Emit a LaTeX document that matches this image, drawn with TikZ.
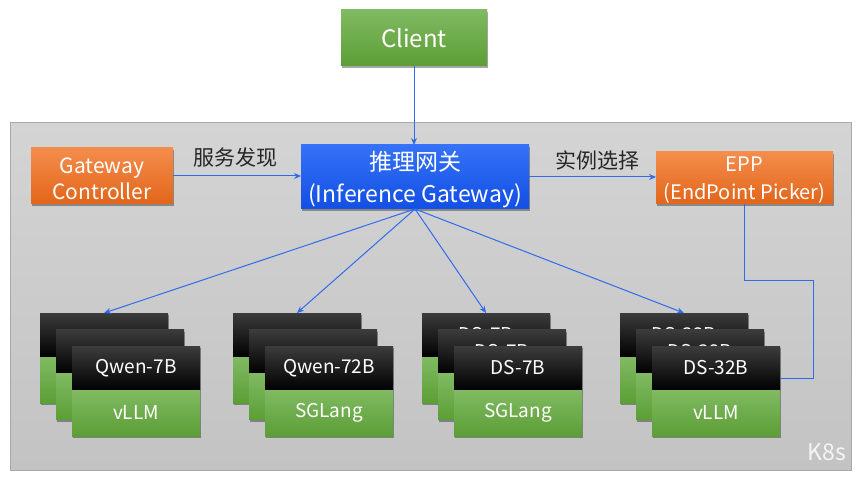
\documentclass[tikz,border=0pt]{standalone}
\usepackage{fontspec}
\setmainfont{Noto Sans CJK SC}
\usetikzlibrary{arrows.meta,shadows,calc}
\definecolor{gtop}{HTML}{80BA62}
\definecolor{gbot}{HTML}{5C9E36}
\definecolor{otop}{HTML}{F48D4C}
\definecolor{obot}{HTML}{E2651A}
\definecolor{btop}{HTML}{3572F7}
\definecolor{bbot}{HTML}{124FE4}
\definecolor{ktop}{HTML}{3C3C3C}
\definecolor{kbot}{HTML}{000000}
\definecolor{connc}{HTML}{2F6BEE}
\definecolor{bgtop}{HTML}{D4D4D4}
\definecolor{bgbot}{HTML}{C3C3C3}
\definecolor{bgline}{HTML}{A8A8A8}
\tikzset{
  shbox/.style={inner sep=0pt, outer sep=0pt, text=white, align=center,
     drop shadow={shadow xshift=1pt, shadow yshift=-2pt, opacity=0.35, fill=black}},
  greenbox/.style={shbox, top color=gtop, bottom color=gbot},
  orangebox/.style={shbox, top color=otop, bottom color=obot},
  bluebox/.style={shbox, top color=btop, bottom color=bbot},
  boxtext/.style={inner sep=0pt, text=white, align=center},
  cardtop/.style={shbox, minimum width=128pt, minimum height=44pt,
     top color=ktop, bottom color=kbot, font=\fontsize{19}{22}\selectfont},
  cardbot/.style={greenbox, minimum width=128pt, minimum height=46pt,
     font=\fontsize{19}{22}\selectfont},
  connline/.style={draw=connc, line width=1pt},
  arr/.style={connline, -{Stealth[length=7pt,width=6pt]}},
  lab/.style={text=black!85, font=\fontsize{21}{24}\selectfont}
}
\newcommand\mycard[5]{%
  \node[cardtop] (#1t) at (#2+64, #3+22) {#4};
  \node[cardbot] (#1b) at (#2+64, #3+67) {#5};
}
\newcommand\mystack[6]{%
  \mycard{#1a}{#2}{#3}{#4}{}
  \mycard{#1m}{#2+16}{#3+16.5}{#4}{}
  \mycard{#1f}{#2+32}{#3+33}{#5}{#6}
}
\begin{document}
\begin{tikzpicture}[x=1pt, y=-1pt]
\useasboundingbox (0,0) rectangle (865,481);
\fill[white] (0,0) rectangle (865,481);
% K8s area
\shade[top color=bgtop, bottom color=bgbot] (10,123) rectangle (851,470);
\draw[bgline, line width=1pt] (10,123) rectangle (851,470);
\node[text=white!96!black, font=\fontsize{23}{26}\selectfont] (k8s) at (827,452) {K8s};

% top nodes
\node[greenbox, minimum width=146pt, minimum height=56pt, font=\fontsize{24}{28}\selectfont] (client) at (414,38) {Client};
\node[orangebox, minimum width=142pt, minimum height=56pt] (gc) at (102,176) {};
\node[boxtext, font=\fontsize{21}{26}\selectfont] (gctext) at ([yshift=-3pt]gc.center) {Gateway\\Controller};
\node[bluebox, minimum width=228pt, minimum height=64pt] (ig) at (415,177) {};
\node[boxtext, font=\fontsize{23}{32}\selectfont] (igtext) at ([yshift=-3pt]ig.center) {推理网关\\(Inference Gateway)};
\node[orangebox, minimum width=177pt, minimum height=52pt] (epp) at (744.5,178) {};
\node[boxtext, font=\fontsize{20}{28}\selectfont] (epptext) at ([yshift=-2pt]epp.center) {EPP\\(EndPoint Picker)};

\node[lab] (l1) at (235,158) {服务发现};
\node[lab] (l2) at (597,160) {实例选择};

% stacks
\mystack{s1}{40}{313}{}{Qwen-7B}{vLLM}
\mystack{s2}{233}{313}{}{Qwen-72B}{SGLang}
\mystack{s3}{422}{313}{DS-7B}{DS-7B}{SGLang}
\mystack{s4}{620}{313}{DS-32B}{DS-32B}{vLLM}

% connectors
\draw[arr] (client.south) -- (client.south |- ig.north);
\draw[arr] (gc.east) -- (gc.east -| ig.west);
\draw[arr] (ig.east) -- (ig.east -| epp.west);
\draw[arr] (ig.south) -- (s1at.north);
\draw[arr] (ig.south) -- (s2at.north);
\draw[arr] (ig.south) -- (s3at.north);
\draw[arr] (ig.south) -- (s4at.north);
\coordinate (e1) at (813,280);
\coordinate (e2) at (813,378);
\draw[connline] (epp.south) |- (e1) -- (e2) -- (e2 -| s4ft.east);
\end{tikzpicture}
\end{document}
